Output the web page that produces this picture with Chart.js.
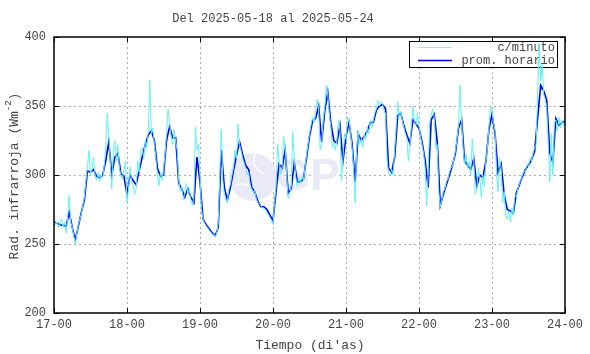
<!DOCTYPE html>
<html>
<head>
<meta charset="utf-8">
<script src="https://cdn.jsdelivr.net/npm/chart.js@4.4.0/dist/chart.umd.min.js"></script>
<style>
  html, body { margin: 0; padding: 0; background: #fff; }
  #wrap { width: 590px; height: 354px; }
</style>
</head>
<body>
<div id="wrap"><canvas id="rad-chart" width="590" height="354"></canvas></div>
<script>
// Tick labels and titles
const dayLabels = ['17-00', '18-00', '19-00', '20-00', '21-00', '22-00', '23-00', '24-00'];
const yTicks = [200, 250, 300, 350, 400];
const chartTitle = 'Del 2025-05-18 al 2025-05-24';
const seriesNames = ['c/minuto', 'prom. horario'];

// Hourly mean (one value per hour, from 17-00 to 24-00)
const hourly17 = [266, 265, 264, 263.5, 263, 273, 262, 253, 263, 273, 282, 303, 302, 304, 299, 298, 300, 310, 324, 300, 313, 316, 301, 299];
const hourly18 = [286, 300, 296, 293, 303, 313, 322, 329, 332, 325, 305, 299, 300, 325, 335, 327, 327, 294, 290, 284, 290, 284, 280, 313];
const hourly19 = [295, 268, 264, 261, 258, 256, 262, 318, 291, 282, 291, 303, 314, 324, 315, 307, 304, 291, 288, 281, 277, 277, 275, 271];
const hourly20 = [267, 288, 308, 305, 318, 287, 290, 309, 295, 295, 297, 312, 328, 339, 341, 350, 324, 346, 360, 338, 325, 323, 336, 310];
const hourly21 = [328, 338, 323, 295, 330, 325, 328, 332, 338, 338, 347, 350, 351, 348, 305, 302, 313, 343, 345, 336, 329, 323, 340, 337];
const hourly22 = [334, 324, 311, 291, 340, 344, 324, 278, 286, 293, 300, 307, 316, 334, 340, 310, 307, 304, 312, 292, 300, 298, 310, 333];
const hourly23 = [344, 330, 302, 308, 286, 275, 274, 272, 287, 293, 299, 304, 307, 311, 317, 341, 365, 361, 354, 316, 309, 341, 336, 338];
const hourlyEnd = [339];

// Per-minute values, read every half hour
const minute17 = [268, 264, 266, 262, 265, 268, 262, 266, 258, 270, 285, 266, 262, 256, 250, 258, 264, 268, 272, 278, 284, 296, 306, 318,
                  300, 305, 313, 300, 296, 302, 296, 300, 298, 306, 320, 345, 330, 310, 290, 318, 325, 310, 322, 305, 300, 297, 304, 310];
const minute18 = [280, 290, 306, 296, 292, 286, 290, 310, 302, 318, 320, 312, 325, 320, 332, 369, 330, 334, 322, 312, 300, 292, 302, 296,
                  304, 315, 330, 348, 338, 328, 322, 333, 324, 318, 296, 288, 292, 282, 286, 294, 287, 290, 281, 278, 284, 335, 318, 322];
const minute19 = [300, 275, 268, 265, 263, 262, 260, 259, 257, 257, 255, 258, 265, 300, 333, 296, 285, 282, 280, 290, 293, 300, 305, 318,
                  312, 337, 322, 318, 312, 309, 305, 300, 302, 293, 290, 287, 289, 283, 280, 279, 278, 276, 276, 275, 273, 271, 269, 267];
const minute20 = [264, 280, 292, 322, 312, 300, 306, 328, 320, 300, 283, 286, 292, 331, 312, 298, 292, 298, 294, 299, 296, 305, 314, 322,
                  330, 336, 342, 338, 345, 355, 348, 318, 322, 340, 348, 365, 358, 345, 335, 320, 324, 318, 325, 340, 333, 296, 312, 330];
const minute21 = [326, 342, 340, 330, 320, 305, 280, 318, 333, 322, 326, 320, 330, 326, 334, 330, 340, 334, 340, 345, 348, 354, 350, 353,
                  352, 346, 345, 310, 302, 300, 304, 300, 318, 335, 353, 342, 346, 340, 335, 330, 327, 310, 320, 335, 350, 338, 336, 345];
const minute22 = [336, 328, 322, 316, 305, 278, 300, 338, 343, 348, 342, 320, 322, 288, 277, 282, 288, 290, 295, 297, 302, 305, 306, 312,
                  318, 326, 336, 365, 338, 320, 308, 315, 305, 310, 300, 326, 310, 286, 290, 305, 298, 284, 300, 292, 310, 320, 335, 350];
const minute23 = [346, 338, 332, 300, 288, 312, 305, 280, 288, 270, 268, 274, 266, 276, 271, 285, 284, 290, 294, 296, 300, 303, 302, 308,
                  306, 312, 310, 316, 320, 322, 360, 395, 368, 380, 358, 355, 348, 322, 295, 330, 300, 338, 340, 332, 342, 334, 340, 336];
const minuteEnd = [338];

const hourlyValues = [].concat(hourly17, hourly18, hourly19, hourly20, hourly21, hourly22, hourly23, hourlyEnd);
const minuteValues = [].concat(minute17, minute18, minute19, minute20, minute21, minute22, minute23, minuteEnd);

const hourlyPoints = hourlyValues.map((v, i) => ({ x: i, y: v }));
const minutePoints = minuteValues.map((v, i) => ({ x: i / 2, y: v }));

const MONO = '"Liberation Mono", "DejaVu Sans Mono", monospace';
const TEXT = '#444';

// Frame, inner ticks, legend, titles and the faint logo
const decorations = {
    id: 'decorations',
    beforeDatasetsDraw(chart) {
        const ctx = chart.ctx;
        ctx.save();

        // faint logo
        ctx.fillStyle = '#eaeaf7';
        ctx.beginPath();
        ctx.arc(253, 177, 24, 0, Math.PI * 2);
        ctx.fill();
        ctx.strokeStyle = '#ffffff';
        ctx.lineWidth = 1.5;
        ctx.beginPath();
        ctx.arc(268, 160, 14, Math.PI * 0.6, Math.PI * 1.6);
        ctx.stroke();
        ctx.beginPath();
        ctx.arc(242, 200, 16, Math.PI * 1.4, Math.PI * 1.9);
        ctx.stroke();
        ctx.font = 'bold 44px "Liberation Sans", sans-serif';
        ctx.textBaseline = 'middle';
        ctx.textAlign = 'left';
        ctx.fillText('GP', 276, 178);

        // legend box
        const bx = 409, by = 41, bw = 148, bh = 26;
        ctx.fillStyle = '#fff';
        ctx.fillRect(bx, by, bw, bh);
        ctx.strokeStyle = '#000';
        ctx.lineWidth = 1;
        ctx.strokeRect(bx + 0.5, by + 0.5, bw, bh);
        ctx.font = '12px ' + MONO;
        ctx.textAlign = 'right';
        ctx.fillStyle = TEXT;
        ctx.strokeStyle = '#7ff5f5';
        ctx.beginPath();
        ctx.moveTo(418, 47.5); ctx.lineTo(452, 47.5);
        ctx.stroke();
        ctx.fillText(seriesNames[0], 555, 48);
        ctx.strokeStyle = '#0000ee';
        ctx.lineWidth = 1.5;
        ctx.beginPath();
        ctx.moveTo(418, 60.5); ctx.lineTo(452, 60.5);
        ctx.stroke();
        ctx.fillText(seriesNames[1], 555, 61);
        ctx.restore();
    },
    afterDraw(chart) {
        const ctx = chart.ctx;
        const a = chart.chartArea;
        const xs = chart.scales.x, ys = chart.scales.y;
        ctx.save();
        ctx.strokeStyle = '#000';
        ctx.lineWidth = 1.5;
        ctx.strokeRect(a.left, a.top, a.right - a.left, a.bottom - a.top);

        // inner tick marks on all four sides
        ctx.lineWidth = 1;
        xs.ticks.forEach(t => {
            const px = Math.round(xs.getPixelForValue(t.value)) + 0.5;
            ctx.beginPath();
            ctx.moveTo(px, a.bottom); ctx.lineTo(px, a.bottom - 5);
            ctx.moveTo(px, a.top); ctx.lineTo(px, a.top + 5);
            ctx.stroke();
        });
        ys.ticks.forEach(t => {
            const py = Math.round(ys.getPixelForValue(t.value)) + 0.5;
            ctx.beginPath();
            ctx.moveTo(a.left, py); ctx.lineTo(a.left + 5, py);
            ctx.moveTo(a.right, py); ctx.lineTo(a.right - 5, py);
            ctx.stroke();
        });

        // title
        ctx.fillStyle = TEXT;
        ctx.font = '12px ' + MONO;
        ctx.textAlign = 'center';
        ctx.textBaseline = 'middle';
        ctx.fillText(chartTitle, 273, 19);

        // x title
        ctx.font = '13px ' + MONO;
        ctx.fillText("Tiempo (di'as)", 310, 346);

        // y title with superscript
        ctx.translate(15, 176);
        ctx.rotate(-Math.PI / 2);
        const part1 = 'Rad. infrarroja (Wm';
        const sup = '-2';
        const part3 = ')';
        ctx.font = '13px ' + MONO;
        const w1 = ctx.measureText(part1).width;
        const w3 = ctx.measureText(part3).width;
        ctx.font = '9px ' + MONO;
        const w2 = ctx.measureText(sup).width;
        let x0 = -(w1 + w2 + w3) / 2;
        ctx.textAlign = 'left';
        ctx.font = '13px ' + MONO;
        ctx.fillText(part1, x0, 0);
        ctx.font = '9px ' + MONO;
        ctx.fillText(sup, x0 + w1, -6);
        ctx.font = '13px ' + MONO;
        ctx.fillText(part3, x0 + w1 + w2, 0);
        ctx.restore();
    }
};

new Chart(document.getElementById('rad-chart'), {
    type: 'line',
    data: {
        datasets: [
            {
                label: seriesNames[0],
                data: minutePoints,
                borderColor: '#5ff2f2',
                borderWidth: 1,
                pointRadius: 0,
                tension: 0
            },
            {
                label: seriesNames[1],
                data: hourlyPoints,
                borderColor: '#0000ee',
                borderWidth: 1.6,
                pointRadius: 0,
                tension: 0
            }
        ]
    },
    options: {
        responsive: false,
        animation: false,
        layout: { padding: { top: 37, right: 25, left: 0, bottom: 0 } },
        plugins: {
            legend: { display: false },
            title: { display: false },
            tooltip: { enabled: false }
        },
        scales: {
            x: {
                type: 'linear',
                min: 0,
                max: 168,
                afterFit(scale) { scale.height = 41; },
                afterBuildTicks(scale) {
                    scale.ticks = dayLabels.map((l, i) => ({ value: i * 24 }));
                },
                ticks: {
                    color: TEXT,
                    font: { family: MONO, size: 12 },
                    padding: 5,
                    maxRotation: 0,
                    autoSkip: false,
                    callback: (v) => dayLabels[Math.round(v / 24)]
                },
                grid: {
                    drawTicks: false,
                    color: (c) => (c.tick && (c.tick.value === 0 || c.tick.value === 168)) ? 'rgba(0,0,0,0)' : '#aaaaaa',
                    lineWidth: 1
                },
                border: { display: false, dash: [2, 3] }
            },
            y: {
                min: 200,
                max: 400,
                afterFit(scale) { scale.width = 54; },
                afterBuildTicks(scale) {
                    scale.ticks = yTicks.map(v => ({ value: v }));
                },
                ticks: {
                    color: TEXT,
                    font: { family: MONO, size: 12 },
                    padding: 8
                },
                grid: {
                    drawTicks: false,
                    color: (c) => (c.tick && (c.tick.value === 200 || c.tick.value === 400)) ? 'rgba(0,0,0,0)' : '#aaaaaa',
                    lineWidth: 1
                },
                border: { display: false, dash: [2, 3] }
            }
        }
    },
    plugins: [decorations]
});
</script>
</body>
</html>
